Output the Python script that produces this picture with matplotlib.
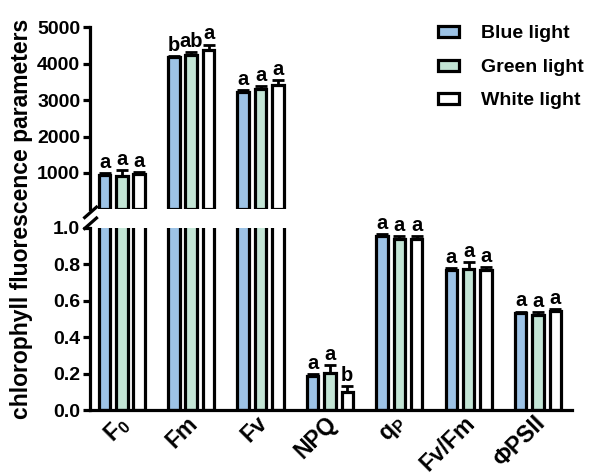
import numpy as np
import matplotlib
matplotlib.use("Agg")
import matplotlib.pyplot as plt
from matplotlib.lines import Line2D
from matplotlib.patches import Patch

plt.rcParams['font.family'] = ['Liberation Sans', 'DejaVu Sans']
plt.rcParams['font.weight'] = 'bold'
plt.rcParams['mathtext.default'] = 'regular'

params = ['F$_0$', 'Fm', 'Fv', 'NPQ', 'q$_P$', 'Fv/Fm', 'ΦPSII']
treatments = ['Blue light', 'Green light', 'White light']
colors = ['#9dc3e6', '#c3e5d5', '#ffffff']

# means (first three on the 0-5000 scale, rest on 0-1 scale)
blue_mean = [945, 4186, 3227, 0.186, 0.955, 0.768, 0.534]
green_mean = [918, 4233, 3293, 0.204, 0.942, 0.776, 0.521]
white_mean = [964, 4370, 3411, 0.103, 0.940, 0.772, 0.547]

blue_err = [60, 30, 50, 0.012, 0.012, 0.012, 0.008]
green_err = [160, 90, 100, 0.045, 0.012, 0.035, 0.02]
white_err = [70, 150, 130, 0.03, 0.014, 0.012, 0.01]

blue_sig = ['a', 'b', 'a', 'a', 'a', 'a', 'a']
green_sig = ['a', 'ab', 'a', 'a', 'a', 'a', 'a']
white_sig = ['a', 'a', 'a', 'b', 'a', 'a', 'a']

means = [blue_mean, green_mean, white_mean]
errs = [blue_err, green_err, white_err]
sigs = [blue_sig, green_sig, white_sig]
n_big = 3

fig = plt.figure(figsize=(5.92, 4.75), dpi=100)
ax_top = fig.add_axes([0.152, 0.559, 0.814, 0.384])
ax_bot = fig.add_axes([0.152, 0.136, 0.814, 0.384])

x = np.arange(len(params))
offs = [-0.25, 0.0, 0.25]
w = 0.165
lw = 2.3

for i in range(3):
    m = np.array(means[i])
    ax_top.bar(x[:n_big] + offs[i], m[:n_big], width=w, color=colors[i],
               edgecolor='black', linewidth=lw, zorder=2)
    ax_bot.bar(x + offs[i], m, width=w, color=colors[i],
               edgecolor='black', linewidth=lw, zorder=2)

for ax in (ax_top, ax_bot):
    ax.set_xlim(-0.46, 6.49)
    for s in ('top', 'right'):
        ax.spines[s].set_visible(False)
    ax.spines['left'].set_linewidth(lw)
    ax.spines['bottom'].set_linewidth(lw)
    ax.tick_params(axis='y', width=lw, length=5, labelsize=14, pad=2)

# error bars and letters
for i in range(3):
    m = np.array(means[i])
    e = np.array(errs[i])
    ax_top.errorbar(x[:n_big] + offs[i], m[:n_big], yerr=[np.zeros(n_big), e[:n_big]],
                    fmt='none', ecolor='black', elinewidth=2, capsize=4, capthick=2, zorder=3)
    ax_bot.errorbar(x[n_big:] + offs[i], m[n_big:],
                    yerr=[np.zeros(len(x) - n_big), e[n_big:]],
                    fmt='none', ecolor='black', elinewidth=2, capsize=4, capthick=2, zorder=3)
    for j in range(len(x)):
        if j < n_big:
            ax_top.text(x[j] + offs[i], m[j] + e[j] + 30, sigs[i][j], ha='center',
                        va='bottom', fontsize=14.5, fontweight='bold')
        else:
            ax_bot.text(x[j] + offs[i], m[j] + e[j] + 0.006, sigs[i][j], ha='center',
                        va='bottom', fontsize=14.5, fontweight='bold')

ax_top.set_ylim(0, 5000)
ax_top.set_yticks([1000, 2000, 3000, 4000, 5000])
ax_top.spines['bottom'].set_visible(False)
ax_top.set_xticks([])

ax_bot.set_ylim(0, 1.0)
ax_bot.set_yticks([0.0, 0.2, 0.4, 0.6, 0.8, 1.0])
ax_bot.set_yticklabels(['0.0', '0.2', '0.4', '0.6', '0.8', '1.0'])
ax_bot.set_xticks(x - 0.07)
ax_bot.set_xticklabels(params, rotation=45, ha='right', rotation_mode='anchor',
                       fontsize=16.5, fontweight='bold')
ax_bot.tick_params(axis='x', length=0, pad=1)

# axis break marks
for yb in (0.553, 0.530):
    fig.add_artist(Line2D([0.143, 0.163], [yb - 0.011, yb + 0.011], color='black',
                          lw=lw, transform=fig.transFigure))

fig.text(0.036, 0.539, 'chlorophyll fluorescence parameters', rotation=90,
         ha='center', va='center', fontsize=16.5, fontweight='bold')

handles = [Patch(facecolor=colors[i], edgecolor='black', linewidth=lw) for i in range(3)]
ax_top.legend(handles, treatments, loc='upper right', bbox_to_anchor=(1.06, 1.105),
              frameon=False, fontsize=14, handlelength=1.1, handleheight=0.5,
              labelspacing=0.85, handletextpad=1.1)

fig.savefig('out.png', dpi=100)
